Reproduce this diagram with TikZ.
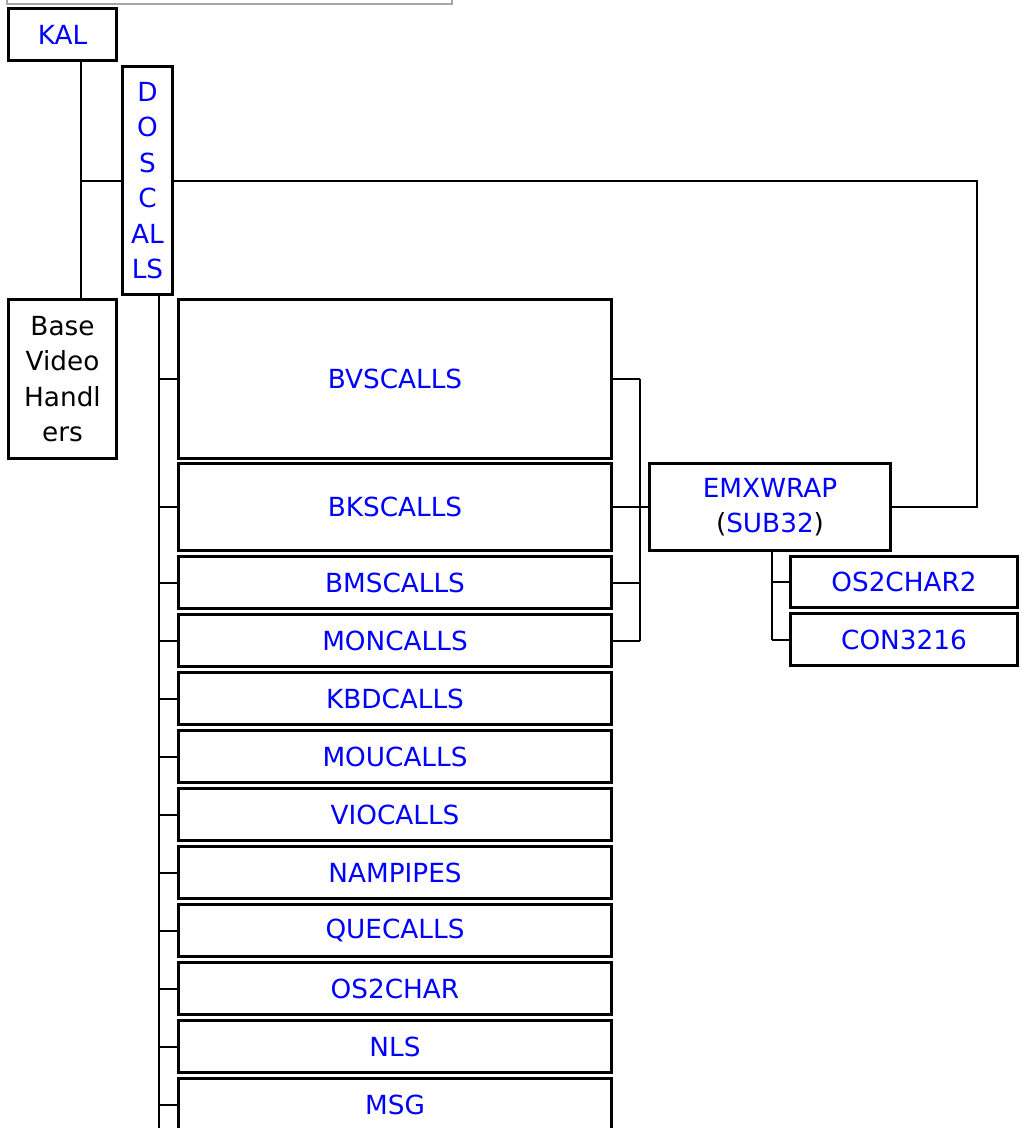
\documentclass[tikz,border=0pt]{standalone}
\usepackage{fontspec}
\setmainfont{DejaVu Sans}
\tikzset{
  callbox/.style={draw=black, line width=3.4pt, text=blue, inner sep=0pt, align=center,
    font=\fontsize{26.3}{35.5}\selectfont},
  rowbox/.style={callbox, minimum width=433pt, minimum height=52pt},
  calllink/.style={black, line width=2pt},
}
\begin{document}
\begin{tikzpicture}[x=1pt,y=-1pt]
\useasboundingbox (0,0) rectangle (1021,1128);
% edge of the box above
\draw[gray!70, line width=1.5pt] (7,0) -- (7,4) -- (452,4) -- (452,0);

\node[callbox, minimum width=108pt, minimum height=52pt] (kal) at (62.5,34.5) {KAL};
\node[callbox, minimum width=50pt, minimum height=228pt] (doscalls) at (147.5,180.5) {D\\O\\S\\C\\AL\\LS};
\node[callbox, text=black, minimum width=108pt, minimum height=159pt] (base) at (62.5,379) {Base\\Video\\Handl\\ers};

\node[rowbox, minimum height=159pt] (bvscalls) at (395,379) {BVSCALLS};
\node[rowbox, minimum height=87pt] (bkscalls) at (395,507) {BKSCALLS};
\node[rowbox] (bmscalls) at (395,582.5) {BMSCALLS};
\node[rowbox] (moncalls) at (395,640.5) {MONCALLS};
\node[rowbox] (kbdcalls) at (395,698.5) {KBDCALLS};
\node[rowbox] (moucalls) at (395,756.5) {MOUCALLS};
\node[rowbox] (viocalls) at (395,814.5) {VIOCALLS};
\node[rowbox] (nampipes) at (395,872.5) {NAMPIPES};
\node[rowbox] (quecalls) at (395,930.5) {QUECALLS};
\node[rowbox] (os2char) at (395,988.5) {OS2CHAR};
\node[rowbox] (nls) at (395,1046.5) {NLS};
\node[rowbox] (msg) at (395,1104.5) {MSG};

\node[callbox, minimum width=241pt, minimum height=87pt] (emxwrap) at (770,507) {EMXWRAP\\{\color{black}(}SUB32{\color{black})}};
\node[callbox, minimum width=227pt, minimum height=51pt] (os2chartwo) at (904,582) {OS2CHAR2};
\node[callbox, minimum width=227pt, minimum height=52pt] (con3216) at (904,639.5) {CON3216};

% trunks
\coordinate (kaltrunk) at (81,0);
\coordinate (dostrunk) at (159,0);
\coordinate (bvstrunk) at (640,0);
\coordinate (emxtrunk) at (772,0);
\coordinate (emxturn) at (977,0);

\draw[calllink] (kal.south -| kaltrunk) -- (base.north -| kaltrunk);
\draw[calllink] (kaltrunk |- doscalls.west) -- (doscalls.west);
\draw[calllink] (doscalls.east) -| (emxturn |- emxwrap.east) -- (emxwrap.east);

\draw[calllink] (doscalls.south -| dostrunk) -- (dostrunk |- 0,1128);
\foreach \n in {bvscalls,bkscalls,bmscalls,moncalls,kbdcalls,moucalls,viocalls,nampipes,quecalls,os2char,nls,msg}
  \draw[calllink] (dostrunk |- \n.west) -- (\n.west);

\draw[calllink] (bvstrunk |- bvscalls.east) -- (bvstrunk |- moncalls.east);
\draw[calllink] (bvscalls.east) -- (bvstrunk |- bvscalls.east);
\draw[calllink] (bkscalls.east) -- (emxwrap.west);
\draw[calllink] (bmscalls.east) -- (bvstrunk |- bmscalls.east);
\draw[calllink] (moncalls.east) -- (bvstrunk |- moncalls.east);

\draw[calllink] (emxwrap.south -| emxtrunk) -- (emxtrunk |- con3216.west);
\draw[calllink] (emxtrunk |- os2chartwo.west) -- (os2chartwo.west);
\draw[calllink] (emxtrunk |- con3216.west) -- (con3216.west);
\end{tikzpicture}
\end{document}
